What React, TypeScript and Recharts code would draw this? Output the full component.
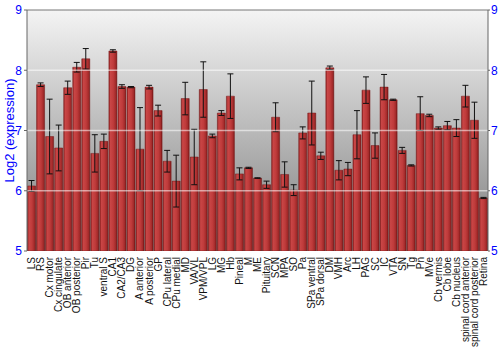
import React from "react";
import {
  BarChart,
  Bar,
  XAxis,
  YAxis,
  CartesianGrid,
  ErrorBar,
  ReferenceLine,
  Label,
} from "recharts";

const REGIONS = [
  "LS", "RS", "Cx motor", "Cx cingulate", "OB anterior", "OB posterior", "Pir", "Tu",
  "ventral S", "CA1", "CA2/CA3", "DG", "A anterior", "A posterior", "GP", "CPu lateral",
  "CPu medial", "MD", "VA/VL", "VPM/VPL", "LG", "MG", "Hb", "Pineal", "M", "ME",
  "Pituitary", "SCN", "MPA", "SO", "Pa", "SPa ventral", "SPa dorsal", "DM", "VMH", "Arc",
  "LH", "PAG", "SC", "IC", "VTA", "SN", "Tg", "Pn", "MVe", "Cb vermis", "Cb lobe",
  "Cb nucleus", "spinal cord anterior", "spinal cord posterior", "Retina",
];

const MEANS = [
  6.08, 7.76, 6.9, 6.71, 7.71, 8.05, 8.19, 6.62,
  6.82, 8.32, 7.73, 7.72, 6.69, 7.72, 7.33, 6.49,
  6.16, 7.53, 6.56, 7.68, 6.91, 7.29, 7.57, 6.28, 6.38, 6.21,
  6.1, 7.22, 6.27, 6.01, 6.96, 7.29, 6.58, 8.04, 6.34, 6.36,
  6.93, 7.67, 6.75, 7.72, 7.51, 6.67, 6.42, 7.28, 7.25, 7.04, 7.08,
  7.04, 7.57, 7.17, 5.88,
];

const ERRORS = [
  0.09, 0.03, 0.62, 0.38, 0.11, 0.08, 0.17, 0.31,
  0.12, 0.02, 0.03, 0.01, 0.69, 0.03, 0.09, 0.18,
  0.43, 0.27, 0.46, 0.46, 0.03, 0.04, 0.37, 0.1, 0.01, 0.005,
  0.06, 0.24, 0.21, 0.09, 0.1, 0.53, 0.06, 0.03, 0.16, 0.11,
  0.4, 0.22, 0.21, 0.21, 0.01, 0.05, 0.01, 0.28, 0.02, 0.02, 0.07,
  0.14, 0.18, 0.3, 0.01,
];

const Y_TICKS = [5, 6, 7, 8, 9];
const GRID_LINES = [6, 7, 8];

const data = REGIONS.map((name, i) => ({ name, mean: MEANS[i], err: ERRORS[i] }));

const FONT = "Arial, 'Liberation Sans', sans-serif";

const RegionTick = (props: any) => {
  const { x, y, payload } = props;
  return (
    <text
      x={x}
      y={y}
      transform={`rotate(-90 ${x} ${y})`}
      textAnchor="end"
      dy="0.35em"
      fontSize={10}
      fontFamily={FONT}
      fill="#111"
    >
      {payload.value}
    </text>
  );
};

export default function App() {
  return (
    <div style={{ position: "absolute", left: 0, top: 0, background: "#fff" }}>
      <BarChart
        width={500}
        height={350}
        data={data}
        margin={{ top: 10, right: 0, left: 0, bottom: 0 }}
        barCategoryGap="6%"
      >
        <defs>
          <linearGradient id="bg" x1="0" y1="0" x2="0" y2="1">
            <stop offset="0%" stopColor="#f4f4f4" />
            <stop offset="100%" stopColor="#7e7e7e" />
          </linearGradient>
          <linearGradient id="barFill" x1="0" y1="0" x2="1" y2="0">
            <stop offset="0%" stopColor="#8c2020" />
            <stop offset="18%" stopColor="#c94646" />
            <stop offset="55%" stopColor="#bf3b3b" />
            <stop offset="85%" stopColor="#a22a2a" />
            <stop offset="100%" stopColor="#751515" />
          </linearGradient>
        </defs>
        <CartesianGrid fill="url(#bg)" horizontal={false} vertical={false} stroke="none" />
        <XAxis
          dataKey="name"
          interval={0}
          height={99}
          axisLine={false}
          tickLine={false}
          tick={<RegionTick />}
          tickMargin={0}
        />
        <YAxis
          yAxisId="left"
          domain={[5, 9]}
          ticks={Y_TICKS}
          width={27}
          tickSize={3}
          tickMargin={2}
          stroke="#666"
          tick={{ fill: "#0000ff", fontSize: 12, fontFamily: FONT }}
          allowDataOverflow
        >
          <Label
            content={({ viewBox }: any) => {
              const cx = viewBox.x + 9;
              const cy = viewBox.y + viewBox.height / 2;
              return (
                <text
                  x={cx}
                  y={cy}
                  transform={`rotate(-90 ${cx} ${cy})`}
                  textAnchor="middle"
                  dy="0.35em"
                  fontSize={13}
                  fontFamily={FONT}
                  fill="#0000ff"
                >
                  Log2 (expression)
                </text>
              );
            }}
          />
        </YAxis>
        <YAxis
          yAxisId="right"
          orientation="right"
          domain={[5, 9]}
          ticks={Y_TICKS}
          width={12}
          tickSize={2}
          tickMargin={1}
          stroke="#666"
          tick={{ fill: "#0000ff", fontSize: 12, fontFamily: FONT }}
          allowDataOverflow
        />
        <Bar
          yAxisId="left"
          dataKey="mean"
          fill="url(#barFill)"
          stroke="#7a1a1a"
          strokeWidth={0.5}
          isAnimationActive={false}
        >
          <ErrorBar dataKey="err" width={3} stroke="#111" strokeWidth={1} direction="y" />
        </Bar>
        {GRID_LINES.map((v) => (
          <ReferenceLine key={v} yAxisId="left" y={v} stroke="#ffffff" strokeOpacity={0.55} strokeWidth={1.5} />
        ))}
        <ReferenceLine yAxisId="left" y={9} stroke="#777" strokeWidth={1} />
      </BarChart>
    </div>
  );
}
